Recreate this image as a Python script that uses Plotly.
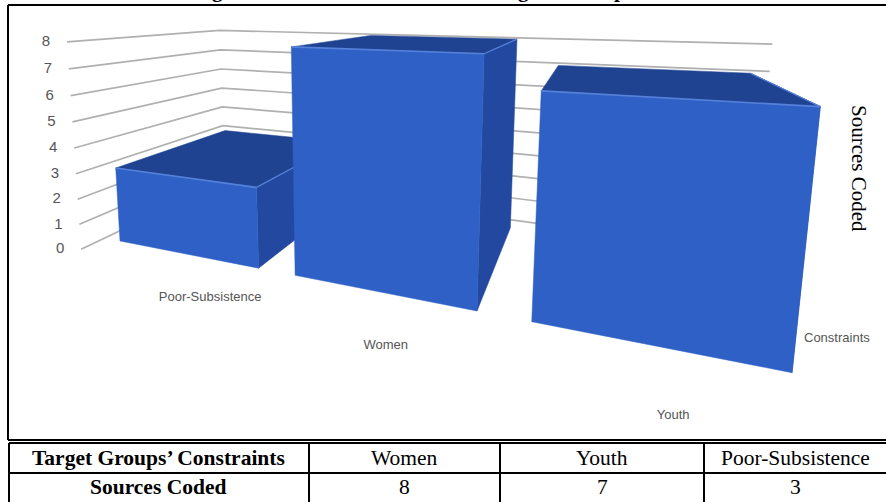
import numpy as np
import plotly.graph_objects as go

# ---- data ----
target_groups = ["Women", "Youth", "Poor-Subsistence"]
sources_coded = [8, 7, 3]
plot_order = ["Poor-Subsistence", "Women", "Youth"]
value_ticks = [0, 1, 2, 3, 4, 5, 6, 7, 8]
table_header = "Target Groups’ Constraints"
table_row = "Sources Coded"

# ---- perspective camera: three vanishing points and the front-left floor corner ----
VP_CATEGORY = np.array([-1125.0, -3.0, 1.0])
VP_DEPTH = np.array([601.0, 2.0, 1.0])
VP_VALUE = np.array([364.0, 4400.0, 1.0])
ORIGIN = np.array([120.0, 241.0, 1.0])
CATEGORY_STEP = -0.1252
DEPTH_STEP = 0.286
VALUE_STEP = -0.00575

# column extents along the category direction, in plot order
COLUMN_SPAN = [(0.0, 0.8), (0.985, 1.78), (1.985, 2.8)]
WALL_U = (-0.1, 2.9)
WALL_D = (-0.16, 1.13)


def project(u, d, v):
    """Map (category position, depth, value) to the page through the camera."""
    h = ORIGIN + u * CATEGORY_STEP * VP_CATEGORY + d * DEPTH_STEP * VP_DEPTH + v * VALUE_STEP * VP_VALUE
    return h[0] / h[2], h[1] / h[2]


FRONT = "#2e60c6"
TOP = "#1f4391"
SIDE = "#22489f"
EDGE = "#5582d8"
GRID = "#b0b0b0"
INK = "#000000"
TICK_INK = "#555555"
SERIF = "Liberation Serif"
SANS = "Liberation Sans"

fig = go.Figure()


def polyline(points, color, width):
    xs, ys = zip(*points)
    fig.add_trace(go.Scatter(x=xs, y=ys, mode="lines", line=dict(color=color, width=width),
                             hoverinfo="skip", showlegend=False))


def face(points, color):
    xs, ys = zip(*(points + points[:1]))
    fig.add_trace(go.Scatter(x=xs, y=ys, mode="lines", fill="toself", fillcolor=color,
                             line=dict(color=color, width=0.5), hoverinfo="skip", showlegend=False))


# gridlines on the two back walls
for tick in value_ticks:
    polyline([project(WALL_U[0], WALL_D[0], tick),
              project(WALL_U[0], WALL_D[1], tick),
              project(WALL_U[1], WALL_D[1], tick)], GRID, 1.7)

# value axis labels sit just left of where each gridline starts
tick_anchor = [project(WALL_U[0], WALL_D[0], t) for t in value_ticks]
fig.add_trace(go.Scatter(x=[p[0] - 21 for p in tick_anchor], y=[p[1] + 0.5 for p in tick_anchor],
                         mode="text", text=[str(t) for t in value_ticks],
                         textfont=dict(family=SANS, size=15, color=TICK_INK),
                         hoverinfo="skip", showlegend=False))

# columns, back to front
values = dict(zip(target_groups, sources_coded))
for group, (u0, u1) in zip(plot_order, COLUMN_SPAN):
    v = values[group]
    face([project(u1, 0, 0), project(u1, 1, 0), project(u1, 1, v), project(u1, 0, v)], SIDE)
    face([project(u0, 0, v), project(u1, 0, v), project(u1, 1, v), project(u0, 1, v)], TOP)
    face([project(u0, 0, 0), project(u1, 0, 0), project(u1, 0, v), project(u0, 0, v)], FRONT)
    polyline([project(u0, 0, v), project(u1, 0, v)], EDGE, 1.6)
    polyline([project(u1, 0, v), project(u1, 1, v)], EDGE, 1.2)

# category labels on the floor in front of the columns
label_u = [0.76, 1.53, 2.42]
label_d = [-0.33, -0.385, -0.405]
label_xy = [project(u, d, 0) for u, d in zip(label_u, label_d)]
fig.add_trace(go.Scatter(x=[p[0] for p in label_xy], y=[p[1] for p in label_xy],
                         mode="text", text=plot_order,
                         textfont=dict(family=SANS, size=13, color=TICK_INK),
                         hoverinfo="skip", showlegend=False))

notes = [
    dict(x=837, y=337, text="Constraints", font=dict(family=SANS, size=13, color=TICK_INK)),
    dict(x=859, y=168, text="Sources Coded", textangle=90, font=dict(family=SERIF, size=21, color=INK)),
]

# table below the chart
col_edges = [9, 309, 500, 704, 886]
row_y = [458, 486.5]
TABLE_SIZE = 21.5
notes.append(dict(x=158, y=row_y[0], text=f"<b>{table_header}</b>",
                  font=dict(family=SERIF, size=TABLE_SIZE, color=INK)))
notes.append(dict(x=158, y=row_y[1], text=f"<b>{table_row}</b>",
                  font=dict(family=SERIF, size=TABLE_SIZE, color=INK)))
for j, (group, v) in enumerate(zip(target_groups, sources_coded)):
    cx = (col_edges[j + 1] + col_edges[j + 2]) / 2
    notes.append(dict(x=cx, y=row_y[0], text=group, font=dict(family=SERIF, size=TABLE_SIZE, color=INK)))
    notes.append(dict(x=cx, y=row_y[1], text=str(v), font=dict(family=SERIF, size=TABLE_SIZE, color=INK)))

annotations = [dict(xref="x", yref="y", showarrow=False, xanchor="center", yanchor="middle", **n) for n in notes]

# the last letters of the heading that hang below the page's top edge
for x, ch in [(217, "g"), (523, "g"), (620, "p")]:
    annotations.append(dict(xref="x", yref="y", x=x, y=3, text=f"<b>{ch}</b>", showarrow=False,
                            xanchor="center", yanchor="bottom", borderpad=0,
                            font=dict(family=SERIF, size=21, color=INK)))

frame = dict(type="line", xref="x", yref="y", line=dict(color="#000000", width=2))
shapes = [
    dict(frame, x0=8, x1=886, y0=5, y1=5),
    dict(frame, x0=8, x1=8, y0=5, y1=440),
    dict(frame, x0=8, x1=886, y0=440, y1=440),
    dict(frame, x0=9, x1=886, y0=443, y1=443),
    dict(frame, x0=9, x1=886, y0=473, y1=473),
]
for x in col_edges[:-1]:
    shapes.append(dict(frame, x0=x, x1=x, y0=443, y1=502))

fig.update_layout(
    width=886, height=502, margin=dict(l=0, r=0, t=0, b=0),
    paper_bgcolor="white", plot_bgcolor="white", showlegend=False,
    xaxis=dict(range=[0, 886], visible=False, fixedrange=True),
    yaxis=dict(range=[502, 0], visible=False, fixedrange=True),
    shapes=shapes, annotations=annotations,
)
fig.write_html("out.html", config=dict(displayModeBar=False))
